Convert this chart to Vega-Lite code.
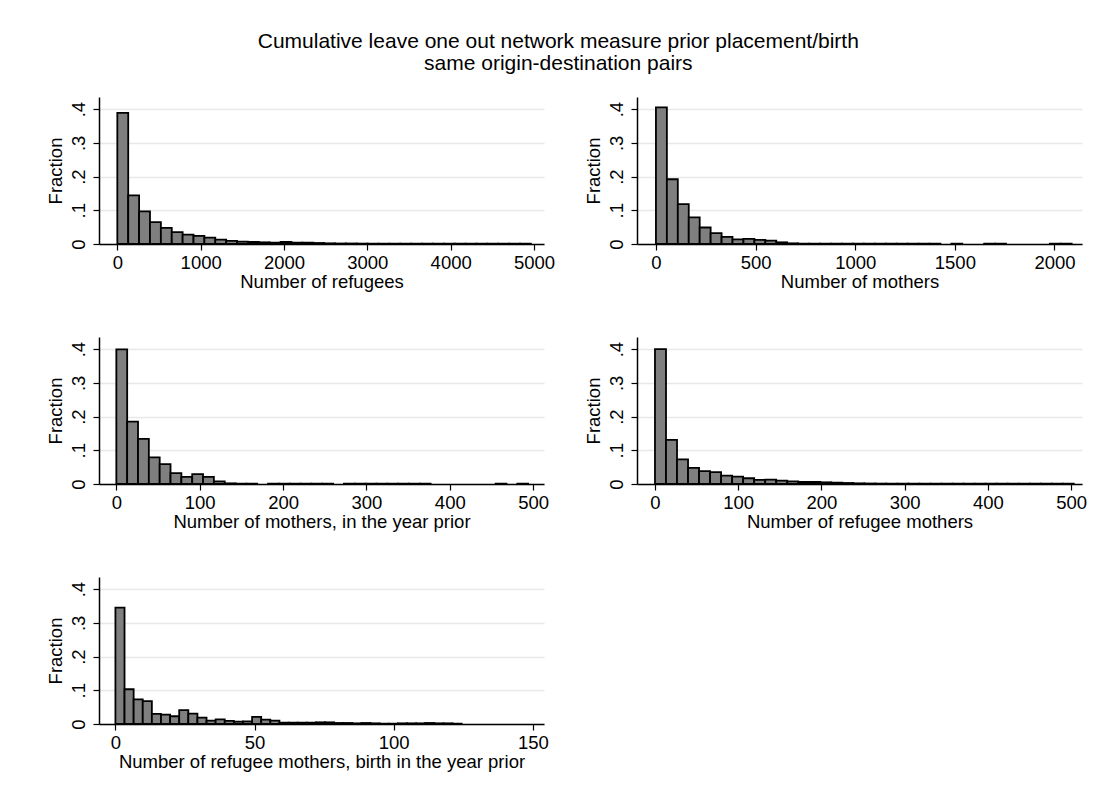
{
  "$schema": "https://vega.github.io/schema/vega-lite/v6.json",
  "background": "white",
  "padding": {"left": 46, "top": 30, "right": 5, "bottom": 5},
  "title": {
    "text": ["Cumulative leave one out network measure prior placement/birth", "same origin-destination pairs"],
    "fontSize": 21, "font": "Liberation Sans", "fontWeight": "normal", "color": "black",
    "anchor": "middle", "frame": "bounds", "dx": -8, "lineHeight": 22, "offset": 23.5
  },
  "config": {
    "font": "Liberation Sans",
    "view": {"stroke": null},
    "axis": {
      "labelFont": "Liberation Sans", "labelFontSize": 18.5, "labelColor": "black",
      "titleFont": "Liberation Sans", "titleFontSize": 18.5, "titleFontWeight": "normal", "titleColor": "black",
      "domainColor": "black", "domainWidth": 1.5, "tickColor": "black", "tickWidth": 1.2, "tickSize": 6,
      "gridColor": "#e8e8e8", "gridWidth": 1.5, "labelFlush": false
    },
    "axisY": {"labelAngle": -90, "labelPadding": 5, "titlePadding": 4},
    "axisX": {"labelPadding": 3, "titlePadding": 1}
  },
  "datasets": {
    "p1": [
      {"x0": 0, "x1": 130.6, "frac": 0.389},
      {"x0": 130.6, "x1": 261.2, "frac": 0.144},
      {"x0": 261.2, "x1": 391.8, "frac": 0.097},
      {"x0": 391.8, "x1": 522.4, "frac": 0.065},
      {"x0": 522.4, "x1": 653, "frac": 0.048},
      {"x0": 653, "x1": 783.6, "frac": 0.035},
      {"x0": 783.6, "x1": 914.2, "frac": 0.028},
      {"x0": 914.2, "x1": 1044.8, "frac": 0.024},
      {"x0": 1044.8, "x1": 1175.4, "frac": 0.019},
      {"x0": 1175.4, "x1": 1306, "frac": 0.013},
      {"x0": 1306, "x1": 1436.6, "frac": 0.009},
      {"x0": 1436.6, "x1": 1567.2, "frac": 0.007},
      {"x0": 1567.2, "x1": 1697.8, "frac": 0.006},
      {"x0": 1697.8, "x1": 1828.4, "frac": 0.005},
      {"x0": 1828.4, "x1": 1959, "frac": 0.004},
      {"x0": 1959, "x1": 2089.6, "frac": 0.006},
      {"x0": 2089.6, "x1": 2220.2, "frac": 0.004},
      {"x0": 2220.2, "x1": 2350.8, "frac": 0.004},
      {"x0": 2350.8, "x1": 2481.4, "frac": 0.003},
      {"x0": 2481.4, "x1": 2612, "frac": 0.002},
      {"x0": 2612, "x1": 2742.6, "frac": 0.0015},
      {"x0": 2742.6, "x1": 2873.2, "frac": 0.0015},
      {"x0": 2873.2, "x1": 3003.8, "frac": 0.0012},
      {"x0": 3003.8, "x1": 3134.4, "frac": 0.001},
      {"x0": 3134.4, "x1": 3265, "frac": 0.001},
      {"x0": 3265, "x1": 3395.6, "frac": 0.001},
      {"x0": 3395.6, "x1": 3526.2, "frac": 0.001},
      {"x0": 3526.2, "x1": 3656.8, "frac": 0.001},
      {"x0": 3656.8, "x1": 3787.4, "frac": 0.001},
      {"x0": 3787.4, "x1": 3918, "frac": 0.001},
      {"x0": 3918, "x1": 4048.6, "frac": 0.001},
      {"x0": 4048.6, "x1": 4179.2, "frac": 0.001},
      {"x0": 4179.2, "x1": 4309.8, "frac": 0.001},
      {"x0": 4309.8, "x1": 4440.4, "frac": 0.001},
      {"x0": 4440.4, "x1": 4571, "frac": 0.001},
      {"x0": 4571, "x1": 4701.6, "frac": 0.001},
      {"x0": 4701.6, "x1": 4832.2, "frac": 0.001},
      {"x0": 4832.2, "x1": 4962.8, "frac": 0.001}
    ],
    "p2": [
      {"x0": 0, "x1": 54.9, "frac": 0.405},
      {"x0": 54.9, "x1": 109.8, "frac": 0.192},
      {"x0": 109.8, "x1": 164.7, "frac": 0.118},
      {"x0": 164.7, "x1": 219.6, "frac": 0.079},
      {"x0": 219.6, "x1": 274.5, "frac": 0.049},
      {"x0": 274.5, "x1": 329.4, "frac": 0.032},
      {"x0": 329.4, "x1": 384.3, "frac": 0.021},
      {"x0": 384.3, "x1": 439.2, "frac": 0.014},
      {"x0": 439.2, "x1": 494.1, "frac": 0.015},
      {"x0": 494.1, "x1": 549, "frac": 0.012},
      {"x0": 549, "x1": 603.9, "frac": 0.01},
      {"x0": 603.9, "x1": 658.8, "frac": 0.005},
      {"x0": 658.8, "x1": 713.7, "frac": 0.002},
      {"x0": 713.7, "x1": 768.6, "frac": 0.001},
      {"x0": 768.6, "x1": 823.5, "frac": 0.001},
      {"x0": 823.5, "x1": 878.4, "frac": 0.001},
      {"x0": 878.4, "x1": 933.3, "frac": 0.001},
      {"x0": 933.3, "x1": 988.2, "frac": 0.001},
      {"x0": 988.2, "x1": 1043.1, "frac": 0.001},
      {"x0": 1043.1, "x1": 1098, "frac": 0.001},
      {"x0": 1098, "x1": 1152.9, "frac": 0.001},
      {"x0": 1152.9, "x1": 1207.8, "frac": 0.001},
      {"x0": 1207.8, "x1": 1262.7, "frac": 0.001},
      {"x0": 1262.7, "x1": 1317.6, "frac": 0.001},
      {"x0": 1317.6, "x1": 1372.5, "frac": 0.001},
      {"x0": 1372.5, "x1": 1427.4, "frac": 0.001},
      {"x0": 1482.3, "x1": 1537.2, "frac": 0.001},
      {"x0": 1647, "x1": 1701.9, "frac": 0.001},
      {"x0": 1701.9, "x1": 1756.8, "frac": 0.001},
      {"x0": 1976.4, "x1": 2031.3, "frac": 0.001},
      {"x0": 2031.3, "x1": 2086.2, "frac": 0.001}
    ],
    "p3": [
      {"x0": 0, "x1": 13, "frac": 0.399},
      {"x0": 13, "x1": 26, "frac": 0.185},
      {"x0": 26, "x1": 39, "frac": 0.134},
      {"x0": 39, "x1": 52, "frac": 0.079},
      {"x0": 52, "x1": 65, "frac": 0.059},
      {"x0": 65, "x1": 78, "frac": 0.032},
      {"x0": 78, "x1": 91, "frac": 0.021},
      {"x0": 91, "x1": 104, "frac": 0.029},
      {"x0": 104, "x1": 117, "frac": 0.021},
      {"x0": 117, "x1": 130, "frac": 0.008},
      {"x0": 130, "x1": 143, "frac": 0.002},
      {"x0": 143, "x1": 156, "frac": 0.001},
      {"x0": 156, "x1": 169, "frac": 0.001},
      {"x0": 182, "x1": 195, "frac": 0.001},
      {"x0": 195, "x1": 208, "frac": 0.001},
      {"x0": 208, "x1": 221, "frac": 0.001},
      {"x0": 221, "x1": 234, "frac": 0.001},
      {"x0": 234, "x1": 247, "frac": 0.001},
      {"x0": 247, "x1": 260, "frac": 0.001},
      {"x0": 273, "x1": 286, "frac": 0.001},
      {"x0": 286, "x1": 299, "frac": 0.001},
      {"x0": 299, "x1": 312, "frac": 0.001},
      {"x0": 312, "x1": 325, "frac": 0.001},
      {"x0": 325, "x1": 338, "frac": 0.001},
      {"x0": 338, "x1": 351, "frac": 0.001},
      {"x0": 351, "x1": 364, "frac": 0.001},
      {"x0": 364, "x1": 377, "frac": 0.001},
      {"x0": 455, "x1": 468, "frac": 0.001},
      {"x0": 481, "x1": 494, "frac": 0.001}
    ],
    "p4": [
      {"x0": 0, "x1": 13.24, "frac": 0.4},
      {"x0": 13.24, "x1": 26.48, "frac": 0.131},
      {"x0": 26.48, "x1": 39.72, "frac": 0.073},
      {"x0": 39.72, "x1": 52.96, "frac": 0.048},
      {"x0": 52.96, "x1": 66.2, "frac": 0.038},
      {"x0": 66.2, "x1": 79.44, "frac": 0.035},
      {"x0": 79.44, "x1": 92.68, "frac": 0.025},
      {"x0": 92.68, "x1": 105.92, "frac": 0.022},
      {"x0": 105.92, "x1": 119.16, "frac": 0.017},
      {"x0": 119.16, "x1": 132.4, "frac": 0.012},
      {"x0": 132.4, "x1": 145.64, "frac": 0.013},
      {"x0": 145.64, "x1": 158.88, "frac": 0.01},
      {"x0": 158.88, "x1": 172.12, "frac": 0.008},
      {"x0": 172.12, "x1": 185.36, "frac": 0.006},
      {"x0": 185.36, "x1": 198.6, "frac": 0.006},
      {"x0": 198.6, "x1": 211.84, "frac": 0.005},
      {"x0": 211.84, "x1": 225.08, "frac": 0.004},
      {"x0": 225.08, "x1": 238.32, "frac": 0.003},
      {"x0": 238.32, "x1": 251.56, "frac": 0.002},
      {"x0": 251.56, "x1": 264.8, "frac": 0.0015},
      {"x0": 264.8, "x1": 278.04, "frac": 0.0012},
      {"x0": 278.04, "x1": 291.28, "frac": 0.001},
      {"x0": 291.28, "x1": 304.52, "frac": 0.001},
      {"x0": 304.52, "x1": 317.76, "frac": 0.001},
      {"x0": 317.76, "x1": 331, "frac": 0.001},
      {"x0": 331, "x1": 344.24, "frac": 0.001},
      {"x0": 344.24, "x1": 357.48, "frac": 0.001},
      {"x0": 357.48, "x1": 370.72, "frac": 0.001},
      {"x0": 370.72, "x1": 383.96, "frac": 0.001},
      {"x0": 383.96, "x1": 397.2, "frac": 0.001},
      {"x0": 397.2, "x1": 410.44, "frac": 0.001},
      {"x0": 410.44, "x1": 423.68, "frac": 0.001},
      {"x0": 423.68, "x1": 436.92, "frac": 0.001},
      {"x0": 436.92, "x1": 450.16, "frac": 0.001},
      {"x0": 450.16, "x1": 463.4, "frac": 0.001},
      {"x0": 463.4, "x1": 476.64, "frac": 0.001},
      {"x0": 476.64, "x1": 489.88, "frac": 0.001},
      {"x0": 489.88, "x1": 503.12, "frac": 0.001}
    ],
    "p5": [
      {"x0": 0, "x1": 3.274, "frac": 0.345},
      {"x0": 3.274, "x1": 6.548, "frac": 0.103},
      {"x0": 6.548, "x1": 9.822, "frac": 0.073},
      {"x0": 9.822, "x1": 13.096, "frac": 0.068},
      {"x0": 13.096, "x1": 16.37, "frac": 0.03},
      {"x0": 16.37, "x1": 19.644, "frac": 0.028},
      {"x0": 19.644, "x1": 22.918, "frac": 0.023},
      {"x0": 22.918, "x1": 26.192, "frac": 0.041},
      {"x0": 26.192, "x1": 29.466, "frac": 0.031},
      {"x0": 29.466, "x1": 32.74, "frac": 0.019},
      {"x0": 32.74, "x1": 36.014, "frac": 0.01},
      {"x0": 36.014, "x1": 39.288, "frac": 0.014},
      {"x0": 39.288, "x1": 42.562, "frac": 0.009},
      {"x0": 42.562, "x1": 45.836, "frac": 0.007},
      {"x0": 45.836, "x1": 49.11, "frac": 0.008},
      {"x0": 49.11, "x1": 52.384, "frac": 0.021},
      {"x0": 52.384, "x1": 55.658, "frac": 0.013},
      {"x0": 55.658, "x1": 58.932, "frac": 0.01},
      {"x0": 58.932, "x1": 62.206, "frac": 0.004},
      {"x0": 62.206, "x1": 65.48, "frac": 0.004},
      {"x0": 65.48, "x1": 68.754, "frac": 0.004},
      {"x0": 68.754, "x1": 72.028, "frac": 0.004},
      {"x0": 72.028, "x1": 75.302, "frac": 0.005},
      {"x0": 75.302, "x1": 78.576, "frac": 0.005},
      {"x0": 78.576, "x1": 81.85, "frac": 0.003},
      {"x0": 81.85, "x1": 85.124, "frac": 0.003},
      {"x0": 85.124, "x1": 88.398, "frac": 0.002},
      {"x0": 88.398, "x1": 91.672, "frac": 0.003},
      {"x0": 91.672, "x1": 94.946, "frac": 0.002},
      {"x0": 94.946, "x1": 98.22, "frac": 0.001},
      {"x0": 98.22, "x1": 101.494, "frac": 0.001},
      {"x0": 101.494, "x1": 104.768, "frac": 0.002},
      {"x0": 104.768, "x1": 108.042, "frac": 0.002},
      {"x0": 108.042, "x1": 111.316, "frac": 0.002},
      {"x0": 111.316, "x1": 114.59, "frac": 0.003},
      {"x0": 114.59, "x1": 117.864, "frac": 0.002},
      {"x0": 117.864, "x1": 121.138, "frac": 0.002},
      {"x0": 121.138, "x1": 124.412, "frac": 0.001}
    ]
  },
  "columns": 2,
  "bounds": "flush",
  "spacing": 93,
  "concat": [
    {
      "width": 445, "height": 147,
      "data": {"name": "p1"},
      "mark": {"type": "bar", "fill": "#7f7f7f", "stroke": "black", "strokeWidth": 1.8},
      "encoding": {
        "x": {"field": "x0", "type": "quantitative", "scale": {"domain": [-220, 5120], "nice": false, "zero": false},
              "axis": {"values": [0, 1000, 2000, 3000, 4000, 5000], "format": "d", "grid": false, "title": "Number of refugees"}},
        "x2": {"field": "x1"},
        "y": {"field": "frac", "type": "quantitative", "scale": {"domain": [0, 0.436], "nice": false},
              "axis": {"values": [0, 0.1, 0.2, 0.3, 0.4], "grid": true, "title": "Fraction",
                       "labelExpr": "datum.value == 0 ? '0' : replace(format(datum.value, '.1f'), '0.', '.')"}},
        "y2": {"datum": 0}
      }
    },
    {
      "width": 445, "height": 147,
      "data": {"name": "p2"},
      "mark": {"type": "bar", "fill": "#7f7f7f", "stroke": "black", "strokeWidth": 1.8},
      "encoding": {
        "x": {"field": "x0", "type": "quantitative", "scale": {"domain": [-95, 2138], "nice": false, "zero": false},
              "axis": {"values": [0, 500, 1000, 1500, 2000], "format": "d", "grid": false, "title": "Number of mothers"}},
        "x2": {"field": "x1"},
        "y": {"field": "frac", "type": "quantitative", "scale": {"domain": [0, 0.436], "nice": false},
              "axis": {"values": [0, 0.1, 0.2, 0.3, 0.4], "grid": true, "title": "Fraction",
                       "labelExpr": "datum.value == 0 ? '0' : replace(format(datum.value, '.1f'), '0.', '.')"}},
        "y2": {"datum": 0}
      }
    },
    {
      "width": 445, "height": 147,
      "data": {"name": "p3"},
      "mark": {"type": "bar", "fill": "#7f7f7f", "stroke": "black", "strokeWidth": 1.8},
      "encoding": {
        "x": {"field": "x0", "type": "quantitative", "scale": {"domain": [-20.8, 513], "nice": false, "zero": false},
              "axis": {"values": [0, 100, 200, 300, 400, 500], "format": "d", "grid": false, "title": "Number of mothers, in the year prior"}},
        "x2": {"field": "x1"},
        "y": {"field": "frac", "type": "quantitative", "scale": {"domain": [0, 0.436], "nice": false},
              "axis": {"values": [0, 0.1, 0.2, 0.3, 0.4], "grid": true, "title": "Fraction",
                       "labelExpr": "datum.value == 0 ? '0' : replace(format(datum.value, '.1f'), '0.', '.')"}},
        "y2": {"datum": 0}
      }
    },
    {
      "width": 445, "height": 147,
      "data": {"name": "p4"},
      "mark": {"type": "bar", "fill": "#7f7f7f", "stroke": "black", "strokeWidth": 1.8},
      "encoding": {
        "x": {"field": "x0", "type": "quantitative", "scale": {"domain": [-21.6, 513], "nice": false, "zero": false},
              "axis": {"values": [0, 100, 200, 300, 400, 500], "format": "d", "grid": false, "title": "Number of refugee mothers"}},
        "x2": {"field": "x1"},
        "y": {"field": "frac", "type": "quantitative", "scale": {"domain": [0, 0.436], "nice": false},
              "axis": {"values": [0, 0.1, 0.2, 0.3, 0.4], "grid": true, "title": "Fraction",
                       "labelExpr": "datum.value == 0 ? '0' : replace(format(datum.value, '.1f'), '0.', '.')"}},
        "y2": {"datum": 0}
      }
    },
    {
      "width": 445, "height": 147,
      "data": {"name": "p5"},
      "mark": {"type": "bar", "fill": "#7f7f7f", "stroke": "black", "strokeWidth": 1.8},
      "encoding": {
        "x": {"field": "x0", "type": "quantitative", "scale": {"domain": [-5.9, 154], "nice": false, "zero": false},
              "axis": {"values": [0, 50, 100, 150], "format": "d", "grid": false, "title": "Number of refugee mothers, birth in the year prior"}},
        "x2": {"field": "x1"},
        "y": {"field": "frac", "type": "quantitative", "scale": {"domain": [0, 0.436], "nice": false},
              "axis": {"values": [0, 0.1, 0.2, 0.3, 0.4], "grid": true, "title": "Fraction",
                       "labelExpr": "datum.value == 0 ? '0' : replace(format(datum.value, '.1f'), '0.', '.')"}},
        "y2": {"datum": 0}
      }
    }
  ]
}
